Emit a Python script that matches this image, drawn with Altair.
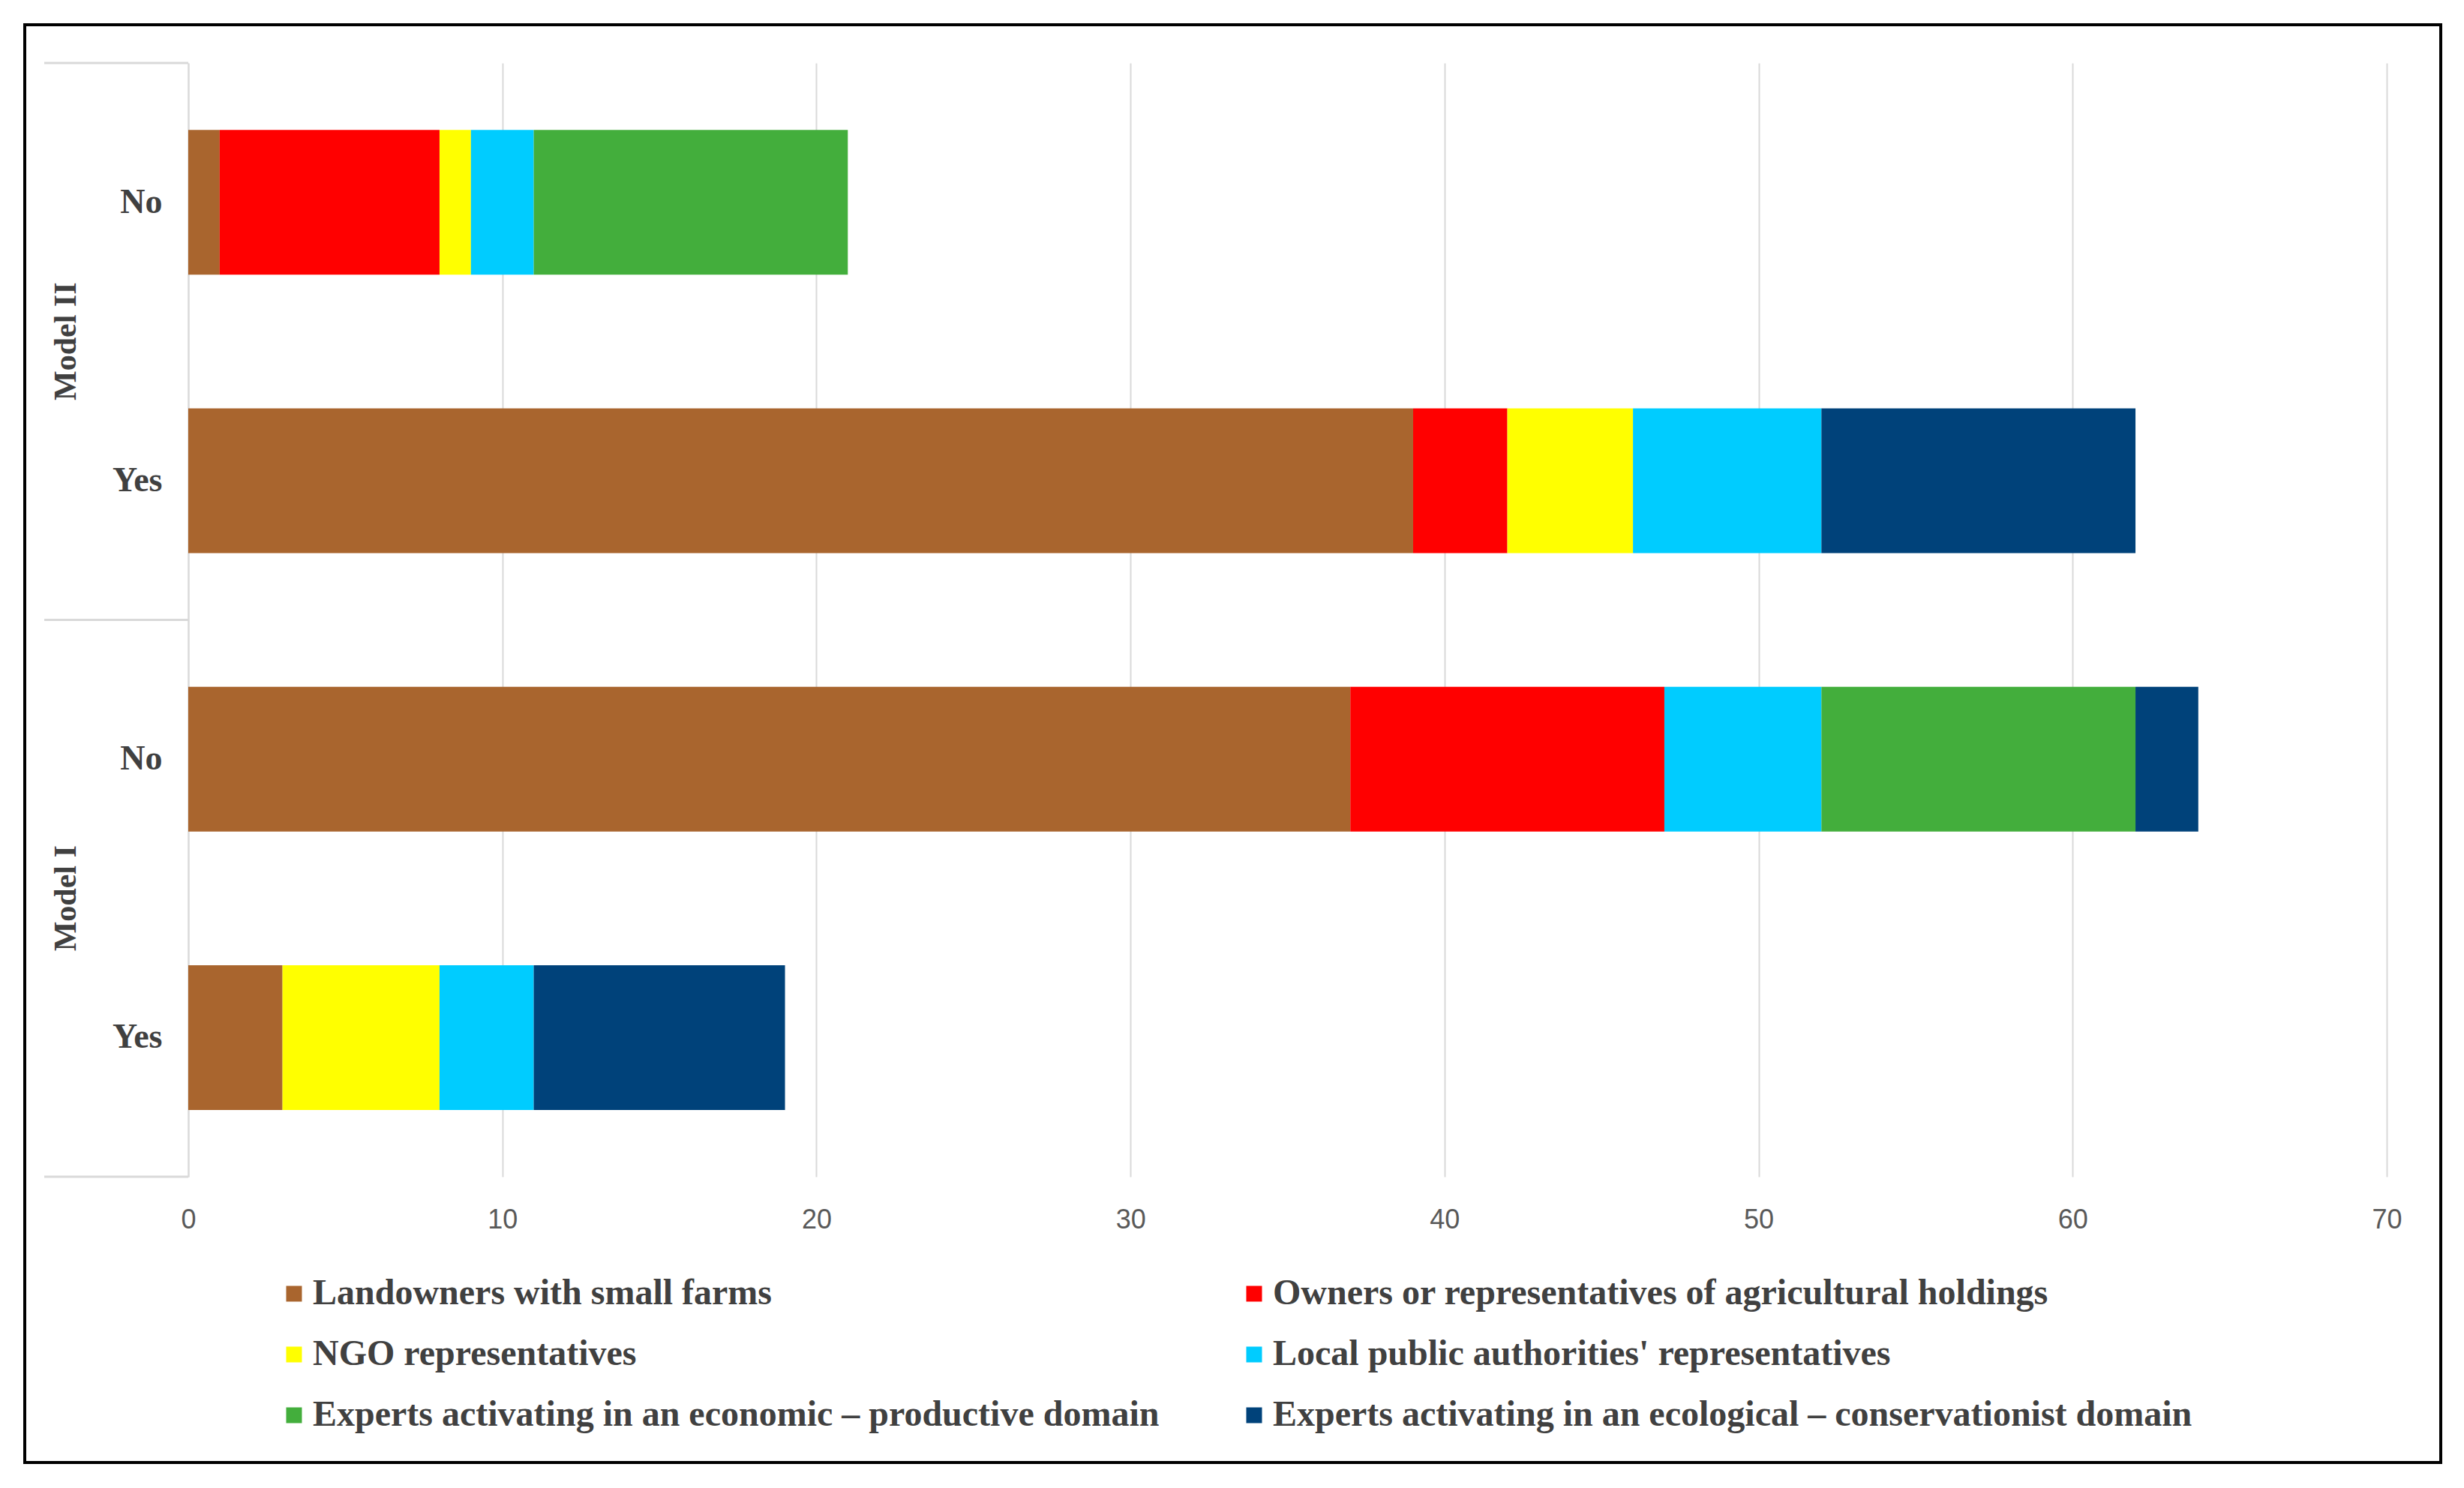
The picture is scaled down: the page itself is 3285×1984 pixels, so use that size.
import altair as alt
import pandas as pd

categories = [
    "Landowners with small farms",
    "Owners or representatives of agricultural holdings",
    "NGO representatives",
    "Local public authorities' representatives",
    "Experts activating in an economic – productive domain",
    "Experts activating in an ecological – conservationist domain",
]
colors = ["#A9652E", "#FF0000", "#FFFF00", "#00CCFF", "#43AE3C", "#00427A"]

models = ["Model II", "Model II", "Model I", "Model I"]
answers = ["No", "Yes", "No", "Yes"]

landowners = [1, 39, 37, 3]
owners = [7, 3, 10, 0]
ngo = [1, 4, 0, 5]
local = [2, 6, 5, 3]
economic = [10, 0, 10, 0]
ecological = [0, 10, 2, 8]

x_ticks = [0, 10, 20, 30, 40, 50, 60, 70]

series = [landowners, owners, ngo, local, economic, ecological]
keys = [f"{m}|{a}" for m, a in zip(models, answers)]

rows = []
for ci, (cat, vals) in enumerate(zip(categories, series)):
    for k, v in zip(keys, vals):
        if v > 0:
            rows.append({"key": k, "category": cat, "order": ci, "value": v})
df = pd.DataFrame(rows)

W, H = 2931, 1485
SERIF = "Liberation Serif"
TICKFONT = "Liberation Sans Narrow, Liberation Sans, sans-serif"

y_axis = alt.Axis(
    title=None,
    labelExpr="split(datum.label, '|')[1]",
    ticks=False,
    domain=True,
    domainColor="#D9D9D9",
    domainWidth=2,
    grid=False,
    labelFont=SERIF,
    labelFontWeight="bold",
    labelFontSize=46,
    labelColor="#404040",
    labelPadding=35,
)
y_scale = alt.Scale(domain=keys, paddingInner=0, paddingOuter=0)


def y_enc(band=0.5):
    return alt.Y("key:N", scale=y_scale, sort=keys, axis=y_axis, bandPosition=band)


bars = alt.Chart(df).mark_bar(size=193).encode(
    x=alt.X(
        "value:Q",
        stack="zero",
        scale=alt.Scale(domain=[0, 70], nice=False),
        axis=alt.Axis(
            values=x_ticks,
            title=None,
            grid=True,
            gridColor="#D9D9D9",
            gridWidth=2,
            domain=False,
            ticks=False,
            labelFlush=False,
            labelFont=TICKFONT,
            labelFontSize=36,
            labelColor="#595959",
            labelPadding=40,
        ),
    ),
    y=alt.Y("key:N", scale=y_scale, sort=keys, axis=y_axis),
    color=alt.Color(
        "category:N",
        scale=alt.Scale(domain=categories, range=colors),
        legend=alt.Legend(
            title=None,
            orient="none",
            direction="horizontal",
            legendX=117,
            legendY=1617,
            columns=2,
            columnPadding=102,
            rowPadding=33,
            padding=0,
            symbolType="square",
            symbolSize=441,
            symbolStrokeWidth=0,
            labelOffset=1,
            labelFont=SERIF,
            labelFontWeight="bold",
            labelFontSize=48,
            labelColor="#404040",
            labelLimit=0,
        ),
    ),
    order=alt.Order("order:Q"),
)

model_df = pd.DataFrame({"key": ["Model II|No", "Model I|No"], "label": ["Model II", "Model I"]})
model_text = alt.Chart(model_df).mark_text(
    angle=270, font=SERIF, fontWeight="bold", fontSize=42, color="#404040",
    align="center", baseline="middle",
).encode(x=alt.value(-163), y=y_enc(1), text="label:N")

sep_top_df = pd.DataFrame({"key": ["Model II|No", "Model I|No"]})
sep_top = alt.Chart(sep_top_df).mark_rule(color="#D9D9D9", strokeWidth=3).encode(
    x=alt.value(-192), x2=alt.value(0), y=y_enc(0)
)
sep_bot_df = pd.DataFrame({"key": ["Model I|Yes"]})
sep_bot = alt.Chart(sep_bot_df).mark_rule(color="#D9D9D9", strokeWidth=3).encode(
    x=alt.value(-192), x2=alt.value(0), y=y_enc(1)
)

border_df = pd.DataFrame({"k": [0]})
border = alt.Chart(border_df).mark_rect(fillOpacity=0, stroke="#000000", strokeWidth=4).encode(
    x=alt.value(-218), x2=alt.value(W + 72), y=alt.value(-51), y2=alt.value(H + 381)
)

chart = alt.layer(bars, sep_top, sep_bot, model_text, border).properties(
    width=W,
    height=H,
    padding={"left": 23, "top": 23, "right": 10, "bottom": 10},
    background="white",
).configure_view(stroke=None)

chart.save("out.html", embed_options={"renderer": "svg", "actions": False})
